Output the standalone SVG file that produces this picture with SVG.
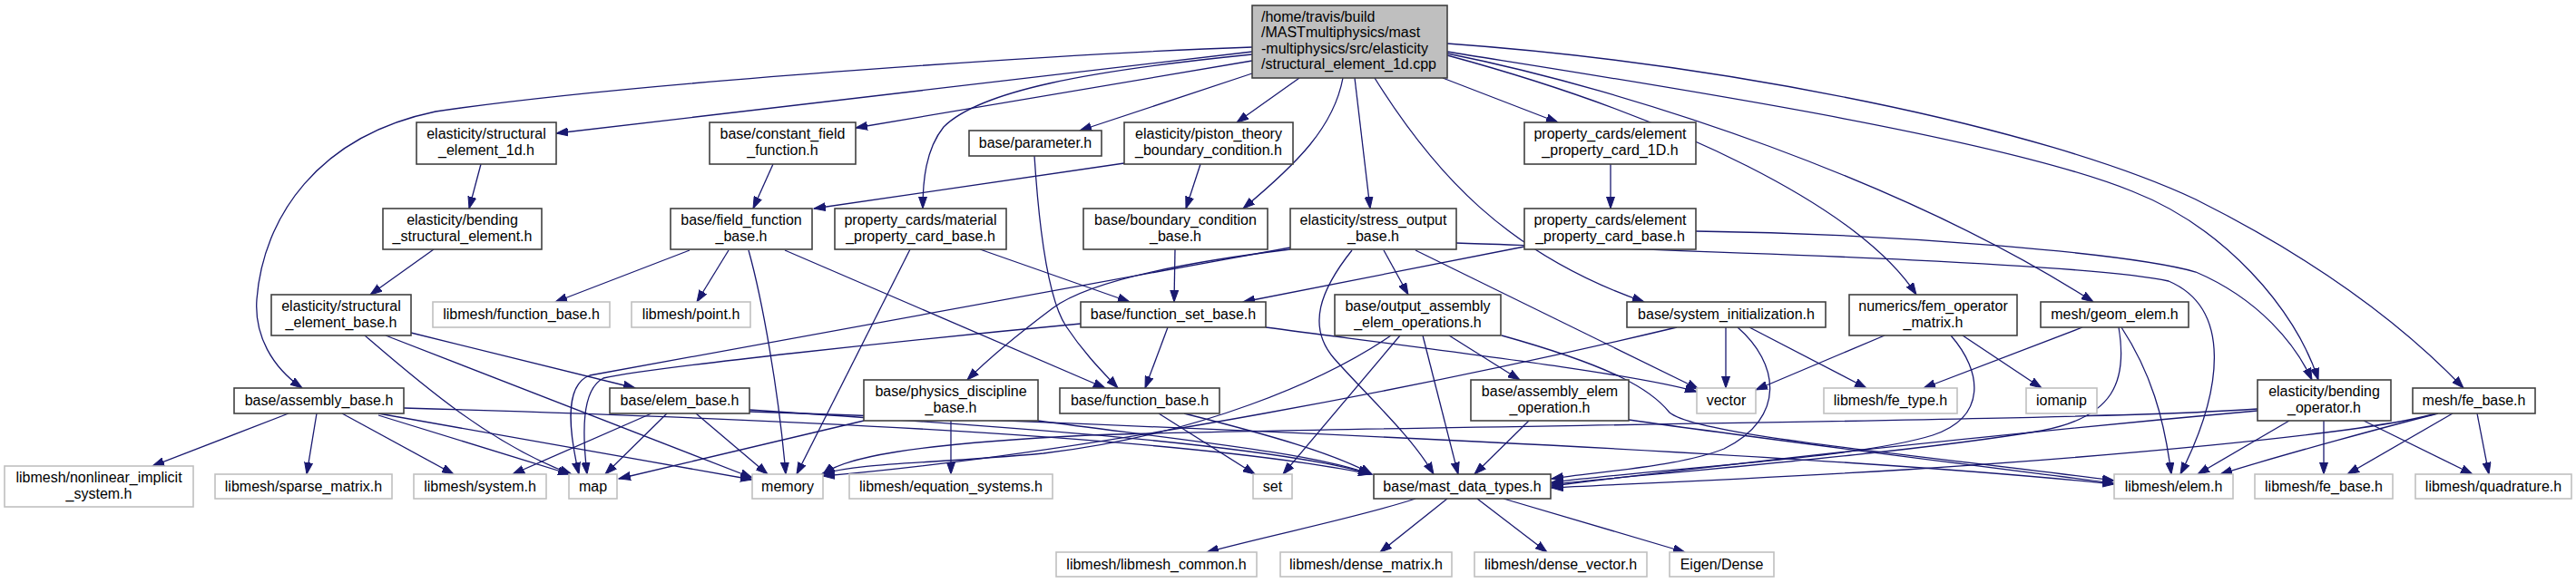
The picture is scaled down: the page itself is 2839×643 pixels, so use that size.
<svg xmlns="http://www.w3.org/2000/svg" width="2839" height="643" viewBox="0 0 2839 643">
<style>
text{font-family:"Liberation Sans",Arial,sans-serif;font-size:16px;text-anchor:middle;fill:#000}
.n rect{fill:#fff;stroke:#404040;stroke-width:1.6}
.g rect{fill:#fff;stroke:#c0c0c0;stroke-width:1.6}
.r rect{fill:#bfbfbf;stroke:#404040;stroke-width:1.6}
.r text{text-anchor:start}
#edges path{fill:none;stroke:#191970;stroke-width:1.3;marker-end:url(#a)}
</style>
<defs>
<marker id="a" markerUnits="userSpaceOnUse" markerWidth="14" markerHeight="10" refX="13" refY="5" orient="auto">
<path d="M0,0.5 L13,5 L0,9.5 z" fill="#191970" stroke="#191970" stroke-width="1"/>
</marker>
</defs>
<rect width="2839" height="643" fill="#fff"/>
<g id="edges">
<path d="M1380,52 C1200,58 700,90 480,123 C350,150 290,240 283,330 C280,370 300,405 333,428"/>
<path d="M1380,57 L613,147"/>
<path d="M1380,67 L943,141"/>
<path d="M1380,60 C1200,78 1080,100 1040,140 C1020,165 1017,200 1017,230"/>
<path d="M1380,81 L1190,144"/>
<path d="M1432,86 L1363,135"/>
<path d="M1480,86 C1470,140 1430,180 1370,230"/>
<path d="M1493,86 L1510,230"/>
<path d="M1515,86 C1580,190 1660,280 1812,333"/>
<path d="M1590,86 L1717,135"/>
<path d="M1595,48 C1900,70 2250,140 2420,220 C2560,290 2650,360 2715,428"/>
<path d="M1595,57 C1800,90 2200,150 2350,211 C2450,250 2530,340 2555,419"/>
<path d="M1595,59 C1800,100 2100,200 2307,333"/>
<path d="M1595,61 C1850,130 2050,230 2112,325"/>
<path d="M530,181 L517,230"/>
<path d="M852,181 L830,230"/>
<path d="M1239,180 L897,230"/>
<path d="M1323,181 L1307,230"/>
<path d="M1080,275 L1245,333"/>
<path d="M1003,275 L878,523"/>
<path d="M1295,275 L1294,333"/>
<path d="M1775,181 L1775,230"/>
<path d="M1680,272 L1370,333"/>
<path d="M1869,255 C2100,258 2350,280 2420,300 C2490,330 2530,380 2548,419"/>
<path d="M1605,268 C1900,278 2300,290 2390,310 C2460,340 2450,430 2403,523"/>
<path d="M478,275 L408,325"/>
<path d="M760,276 L612,333"/>
<path d="M803,276 L768,333"/>
<path d="M825,276 C840,330 858,430 866,523"/>
<path d="M865,276 L1218,428"/>
<path d="M1140,172 C1145,250 1155,330 1175,360 C1195,390 1215,410 1232,428"/>
<path d="M1525,276 L1552,325"/>
<path d="M1490,276 C1455,320 1440,360 1470,395 C1510,440 1555,480 1580,523"/>
<path d="M1560,276 L1872,429"/>
<path d="M1422,273 C1100,332 760,392 650,414 C620,425 628,480 638,523"/>
<path d="M1422,275 C1300,290 1200,310 1160,340 C1120,370 1090,395 1066,419"/>
<path d="M1287,361 L1262,428"/>
<path d="M1191,357 C1000,375 720,405 665,417 C640,430 642,480 647,523"/>
<path d="M1395,361 C1600,388 1800,412 1870,432"/>
<path d="M1568,370 L1607,523"/>
<path d="M1597,370 L1675,419"/>
<path d="M1543,370 L1414,523"/>
<path d="M1533,370 C1460,420 1320,480 1150,500 C1020,512 950,510 905,523"/>
<path d="M1655,370 C1780,405 1820,430 1840,455 C1870,480 2100,500 2330,530"/>
<path d="M1902,361 L1902,428"/>
<path d="M1928,361 L2057,428"/>
<path d="M1915,361 C1960,400 1970,460 1900,495 C1850,515 1760,520 1710,528"/>
<path d="M1848,361 C1600,420 1200,500 907,525"/>
<path d="M2077,370 L1935,430"/>
<path d="M2150,370 C2185,410 2190,460 2130,480 C2050,505 1850,515 1710,532"/>
<path d="M2163,370 L2250,428"/>
<path d="M2295,361 L2120,428"/>
<path d="M2335,361 C2345,420 2330,460 2250,475 C2100,500 1850,520 1710,534"/>
<path d="M2338,361 C2370,410 2385,460 2393,523"/>
<path d="M2523,464 L2422,523"/>
<path d="M2561,464 L2561,523"/>
<path d="M2605,464 L2725,523"/>
<path d="M2488,451 C2300,465 1500,470 1200,480 C1000,490 930,505 907,523"/>
<path d="M2488,453 C2300,470 2000,500 1710,536"/>
<path d="M2703,456 L2587,523"/>
<path d="M2730,456 L2743,523"/>
<path d="M2687,456 C2640,468 2520,500 2447,523"/>
<path d="M2685,456 C2600,480 2300,505 2100,518 C1900,530 1760,535 1710,538"/>
<path d="M453,367 L700,428"/>
<path d="M425,370 L829,527"/>
<path d="M402,370 C460,420 540,490 630,523"/>
<path d="M318,456 L168,514"/>
<path d="M349,456 L338,523"/>
<path d="M377,456 L500,523"/>
<path d="M445,450 C800,460 1300,480 1510,523"/>
<path d="M417,456 L829,529"/>
<path d="M417,458 L628,523"/>
<path d="M718,456 L565,523"/>
<path d="M735,456 L667,523"/>
<path d="M767,456 L846,523"/>
<path d="M826,452 C1100,470 1400,490 1512,523"/>
<path d="M826,454 C1300,470 2000,500 2330,534"/>
<path d="M1048,464 L1048,523"/>
<path d="M1144,464 C1300,485 1450,500 1510,523"/>
<path d="M952,464 L682,528"/>
<path d="M1277,456 L1383,523"/>
<path d="M1305,456 C1400,480 1470,500 1512,523"/>
<path d="M1685,464 L1625,523"/>
<path d="M1795,463 C1950,485 2150,510 2330,533"/>
<path d="M1560,550 C1500,570 1400,590 1330,609"/>
<path d="M1595,550 L1521,609"/>
<path d="M1628,550 L1705,609"/>
<path d="M1657,550 L1857,609"/>
</g>
<g id="root" class="r"><rect x="1380" y="6" width="215" height="80"/><text x="1390" y="23.5">/home/travis/build</text><text x="1390" y="41">/MASTmultiphysics/mast</text><text x="1390" y="58.5">-multiphysics/src/elasticity</text><text x="1390" y="76">/structural_element_1d.cpp</text></g>
<g id="s1d" class="n"><rect x="459" y="135" width="154" height="46"/><text x="536" y="153">elasticity/structural</text><text x="536" y="170.5">_element_1d.h</text></g>
<g id="cff" class="n"><rect x="782" y="135" width="161" height="46"/><text x="862.5" y="153">base/constant_field</text><text x="862.5" y="170.5">_function.h</text></g>
<g id="param" class="n"><rect x="1068" y="144" width="146" height="28"/><text x="1141" y="162.5">base/parameter.h</text></g>
<g id="piston" class="n"><rect x="1239" y="135" width="186" height="46"/><text x="1332" y="153">elasticity/piston_theory</text><text x="1332" y="170.5">_boundary_condition.h</text></g>
<g id="epc1d" class="n"><rect x="1680" y="135" width="189" height="46"/><text x="1774.5" y="153">property_cards/element</text><text x="1774.5" y="170.5">_property_card_1D.h</text></g>
<g id="bse" class="n"><rect x="422" y="230" width="175" height="45"/><text x="509.5" y="248">elasticity/bending</text><text x="509.5" y="265.5">_structural_element.h</text></g>
<g id="ffb" class="n"><rect x="739" y="230" width="156" height="45"/><text x="817" y="248">base/field_function</text><text x="817" y="265.5">_base.h</text></g>
<g id="mpcb" class="n"><rect x="920" y="230" width="189" height="45"/><text x="1014.5" y="248">property_cards/material</text><text x="1014.5" y="265.5">_property_card_base.h</text></g>
<g id="bcb" class="n"><rect x="1194" y="230" width="203" height="45"/><text x="1295.5" y="248">base/boundary_condition</text><text x="1295.5" y="265.5">_base.h</text></g>
<g id="sob" class="n"><rect x="1422" y="230" width="183" height="45"/><text x="1513.5" y="248">elasticity/stress_output</text><text x="1513.5" y="265.5">_base.h</text></g>
<g id="epcb" class="n"><rect x="1680" y="230" width="189" height="45"/><text x="1774.5" y="248">property_cards/element</text><text x="1774.5" y="265.5">_property_card_base.h</text></g>
<g id="seb" class="n"><rect x="299" y="325" width="154" height="45"/><text x="376" y="343">elasticity/structural</text><text x="376" y="360.5">_element_base.h</text></g>
<g id="lfb" class="g"><rect x="477" y="333" width="195" height="28"/><text x="574.5" y="351.5">libmesh/function_base.h</text></g>
<g id="lpt" class="g"><rect x="696" y="333" width="131" height="28"/><text x="761.5" y="351.5">libmesh/point.h</text></g>
<g id="fsb" class="n"><rect x="1191" y="333" width="204" height="28"/><text x="1293" y="351.5">base/function_set_base.h</text></g>
<g id="oaeo" class="n"><rect x="1471" y="325" width="183" height="45"/><text x="1562.5" y="343">base/output_assembly</text><text x="1562.5" y="360.5">_elem_operations.h</text></g>
<g id="sysi" class="n"><rect x="1793" y="333" width="219" height="28"/><text x="1902.5" y="351.5">base/system_initialization.h</text></g>
<g id="femop" class="n"><rect x="2038" y="325" width="185" height="45"/><text x="2130.5" y="343">numerics/fem_operator</text><text x="2130.5" y="360.5">_matrix.h</text></g>
<g id="geom" class="n"><rect x="2249" y="333" width="163" height="28"/><text x="2330.5" y="351.5">mesh/geom_elem.h</text></g>
<g id="asm" class="n"><rect x="258" y="428" width="187" height="28"/><text x="351.5" y="446.5">base/assembly_base.h</text></g>
<g id="eb" class="n"><rect x="672" y="428" width="154" height="28"/><text x="749" y="446.5">base/elem_base.h</text></g>
<g id="pdb" class="n"><rect x="952" y="419" width="192" height="45"/><text x="1048" y="437">base/physics_discipline</text><text x="1048" y="454.5">_base.h</text></g>
<g id="fb" class="n"><rect x="1168" y="428" width="176" height="28"/><text x="1256" y="446.5">base/function_base.h</text></g>
<g id="aeo" class="n"><rect x="1621" y="419" width="174" height="45"/><text x="1708" y="437">base/assembly_elem</text><text x="1708" y="454.5">_operation.h</text></g>
<g id="vec" class="g"><rect x="1870" y="428" width="65" height="28"/><text x="1902.5" y="446.5">vector</text></g>
<g id="fet" class="g"><rect x="2010" y="428" width="147" height="28"/><text x="2083.5" y="446.5">libmesh/fe_type.h</text></g>
<g id="iom" class="g"><rect x="2233" y="428" width="78" height="28"/><text x="2272" y="446.5">iomanip</text></g>
<g id="bop" class="n"><rect x="2488" y="419" width="147" height="45"/><text x="2561.5" y="437">elasticity/bending</text><text x="2561.5" y="454.5">_operator.h</text></g>
<g id="feb" class="n"><rect x="2659" y="428" width="135" height="28"/><text x="2726.5" y="446.5">mesh/fe_base.h</text></g>
<g id="nis" class="g"><rect x="5" y="514" width="208" height="45"/><text x="109" y="532">libmesh/nonlinear_implicit</text><text x="109" y="549.5">_system.h</text></g>
<g id="spm" class="g"><rect x="237" y="523" width="195" height="27"/><text x="334.5" y="541.5">libmesh/sparse_matrix.h</text></g>
<g id="sys" class="g"><rect x="456" y="523" width="146" height="27"/><text x="529" y="541.5">libmesh/system.h</text></g>
<g id="map" class="g"><rect x="627" y="523" width="53" height="27"/><text x="653.5" y="541.5">map</text></g>
<g id="mem" class="g"><rect x="829" y="523" width="78" height="27"/><text x="868" y="541.5">memory</text></g>
<g id="eqs" class="g"><rect x="936" y="523" width="224" height="27"/><text x="1048" y="541.5">libmesh/equation_systems.h</text></g>
<g id="set" class="g"><rect x="1381" y="523" width="43" height="27"/><text x="1402.5" y="541.5">set</text></g>
<g id="mdt" class="n"><rect x="1514" y="523" width="195" height="27"/><text x="1611.5" y="541.5">base/mast_data_types.h</text></g>
<g id="elem" class="g"><rect x="2330" y="523" width="131" height="27"/><text x="2395.5" y="541.5">libmesh/elem.h</text></g>
<g id="lfeb" class="g"><rect x="2485" y="523" width="152" height="27"/><text x="2561" y="541.5">libmesh/fe_base.h</text></g>
<g id="quad" class="g"><rect x="2662" y="523" width="172" height="27"/><text x="2748" y="541.5">libmesh/quadrature.h</text></g>
<g id="lmc" class="g"><rect x="1164" y="609" width="221" height="27"/><text x="1274.5" y="627.5">libmesh/libmesh_common.h</text></g>
<g id="dm" class="g"><rect x="1411" y="609" width="189" height="27"/><text x="1505.5" y="627.5">libmesh/dense_matrix.h</text></g>
<g id="dv" class="g"><rect x="1625" y="609" width="190" height="27"/><text x="1720" y="627.5">libmesh/dense_vector.h</text></g>
<g id="eig" class="g"><rect x="1840" y="609" width="115" height="27"/><text x="1897.5" y="627.5">Eigen/Dense</text></g>
</svg>
